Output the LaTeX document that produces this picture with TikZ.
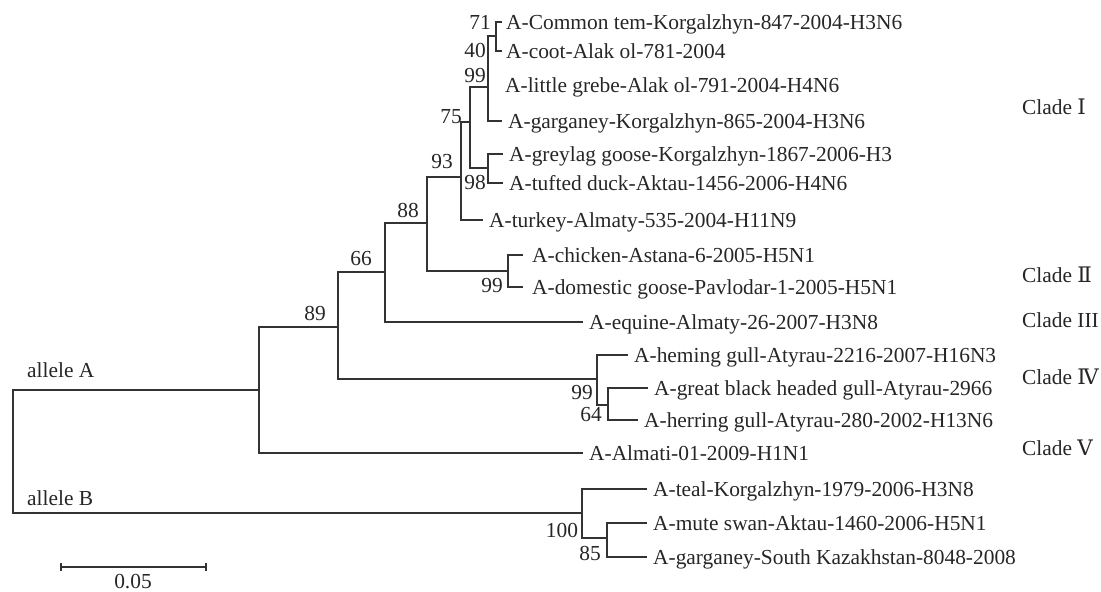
\documentclass[tikz,border=0pt]{standalone}
\usepackage{fontspec}
\usetikzlibrary{calc}
\setmainfont{Liberation Serif}
\newfontfamily\romfont{DejaVu Serif}
\newcommand{\tipfont}{\fontsize{21.4}{24}\selectfont}
\begin{document}
\begin{tikzpicture}[x=1pt,y=-1pt,
  br/.style={line width=1.8pt, draw=black!80},
  tip/.style={anchor=base west, inner sep=0pt, font=\tipfont, text=black!85, xshift=6pt, yshift=-7pt},
  bs/.style={anchor=center, inner sep=0pt, font=\tipfont, text=black!85},
  clade/.style={anchor=west, inner sep=0pt, font=\tipfont, text=black!85},
]
\path[use as bounding box] (0,0) rectangle (1101,592);
% internal nodes
\coordinate (r) at (13,451);
\coordinate (A) at (259,390);
\coordinate (B) at (582,513);
\coordinate (n89) at (338,327);
\coordinate (n66) at (385,272);
\coordinate (n88) at (427,223);
\coordinate (n93) at (461,177);
\coordinate (n75) at (470,122);
\coordinate (n99) at (488,87);
\coordinate (n71) at (496,36);
\coordinate (n98) at (488,168);
\coordinate (c99) at (508,271);
\coordinate (g99) at (597,379);
\coordinate (g64) at (608,405);
\coordinate (b85) at (607,538);
% tips
\coordinate (tCommon) at (502,22);
\coordinate (tCoot) at (502,51);
\coordinate (tGrebe) at (488,85);
\coordinate (tGarg) at (502,121);
\coordinate (tGrey) at (503,154);
\coordinate (tTuft) at (503,183);
\coordinate (tTurk) at (483,220);
\coordinate (tChick) at (523,255);
\coordinate (tGoose) at (523,287);
\coordinate (tEquine) at (583,322);
\coordinate (tHeming) at (628,355);
\coordinate (tGreat) at (648,388);
\coordinate (tHerr) at (638,420);
\coordinate (tAlm) at (583,453);
\coordinate (tTeal) at (647,489);
\coordinate (tSwan) at (647,523);
\coordinate (tSK) at (647,557);
% branches
\draw[br] (r) |- (A);
\draw[br] (r) |- (B);
\draw[br] (A) |- (n89);
\draw[br] (A) |- (tAlm);
\draw[br] (n89) |- (n66);
\draw[br] (n89) |- (g99);
\draw[br] (n66) |- (n88);
\draw[br] (n66) |- (tEquine);
\draw[br] (n88) |- (n93);
\draw[br] (n88) |- (c99);
\draw[br] (n93) |- (n75);
\draw[br] (n93) |- (tTurk);
\draw[br] (n75) |- (n99);
\draw[br] (n75) |- (n98);
\draw[br] (n99) |- (n71);
\draw[br] (n99) |- (tGrebe);
\draw[br] (n99) |- (tGarg);
\draw[br] (n71) |- (tCommon);
\draw[br] (n71) |- (tCoot);
\draw[br] (n98) |- (tGrey);
\draw[br] (n98) |- (tTuft);
\draw[br] (c99) |- (tChick);
\draw[br] (c99) |- (tGoose);
\draw[br] (g99) |- (tHeming);
\draw[br] (g99) |- (g64);
\draw[br] (g64) |- (tGreat);
\draw[br] (g64) |- (tHerr);
\draw[br] (B) |- (tTeal);
\draw[br] (B) |- (b85);
\draw[br] (b85) |- (tSwan);
\draw[br] (b85) |- (tSK);
% tip labels
\node[tip, xshift=-2pt] (lCommon) at (tCommon) {A-Common tem-Korgalzhyn-847-2004-H3N6};
\node[tip, xshift=-2pt] (lCoot) at (tCoot) {A-coot-Alak ol-781-2004};
\node[tip, xshift=11pt] (lGrebe) at (tGrebe) {A-little grebe-Alak ol-791-2004-H4N6};
\node[tip] (lGarg) at (tGarg) {A-garganey-Korgalzhyn-865-2004-H3N6};
\node[tip] (lGrey) at (tGrey) {A-greylag goose-Korgalzhyn-1867-2006-H3};
\node[tip] (lTuft) at (tTuft) {A-tufted duck-Aktau-1456-2006-H4N6};
\node[tip] (lTurk) at (tTurk) {A-turkey-Almaty-535-2004-H11N9};
\node[tip, xshift=3pt] (lChick) at (tChick) {A-chicken-Astana-6-2005-H5N1};
\node[tip, xshift=3pt] (lGoose) at (tGoose) {A-domestic goose-Pavlodar-1-2005-H5N1};
\node[tip] (lEquine) at (tEquine) {A-equine-Almaty-26-2007-H3N8};
\node[tip] (lHeming) at (tHeming) {A-heming gull-Atyrau-2216-2007-H16N3};
\node[tip] (lGreat) at (tGreat) {A-great black headed gull-Atyrau-2966};
\node[tip] (lHerr) at (tHerr) {A-herring gull-Atyrau-280-2002-H13N6};
\node[tip] (lAlm) at (tAlm) {A-Almati-01-2009-H1N1};
\node[tip] (lTeal) at (tTeal) {A-teal-Korgalzhyn-1979-2006-H3N8};
\node[tip] (lSwan) at (tSwan) {A-mute swan-Aktau-1460-2006-H5N1};
\node[tip] (lSK) at (tSK) {A-garganey-South Kazakhstan-8048-2008};
% bootstrap values
\node[bs] (b71) at (480,22) {71};
\node[bs] (b40) at (475,50) {40};
\node[bs] (b99a) at (475,76) {99};
\node[bs] (b75) at (451,117) {75};
\node[bs] (b93) at (442,162) {93};
\node[bs] (b98) at (475,182) {98};
\node[bs] (b88) at (408,210) {88};
\node[bs] (b66) at (361,259) {66};
\node[bs] (b89) at (315,313) {89};
\node[bs] (b99b) at (492,286) {99};
\node[bs] (b99c) at (582,393) {99};
\node[bs] (b64) at (591,415) {64};
\node[bs] (b100) at (562,530) {100};
\node[bs] (b85l) at (590,553) {85};
% allele labels
\node[clade] (alA) at (27,370) {allele A};
\node[clade] (alB) at (27,498) {allele B};
% clade labels
\node[clade] (c1) at (1022,107) {Clade {\romfont Ⅰ}};
\node[clade] (c2) at (1022,275) {Clade {\romfont Ⅱ}};
\node[clade] (c3) at (1022,320) {Clade III};
\node[clade] (c4) at (1022,377) {Clade {\romfont Ⅳ}};
\node[clade] (c5) at (1022,448) {Clade {\romfont Ⅴ}};
% scale bar
\coordinate (s1) at (61,567);
\coordinate (s2) at (206,567);
\draw[br, line width=1.4pt] (s1) -- (s2);
\draw[br, line width=1.4pt] ($(s1)+(0,-4)$) -- ($(s1)+(0,4)$);
\draw[br, line width=1.4pt] ($(s2)+(0,-4)$) -- ($(s2)+(0,4)$);
\node[bs] (sl) at (133,582) {0.05};
\end{tikzpicture}
\end{document}
